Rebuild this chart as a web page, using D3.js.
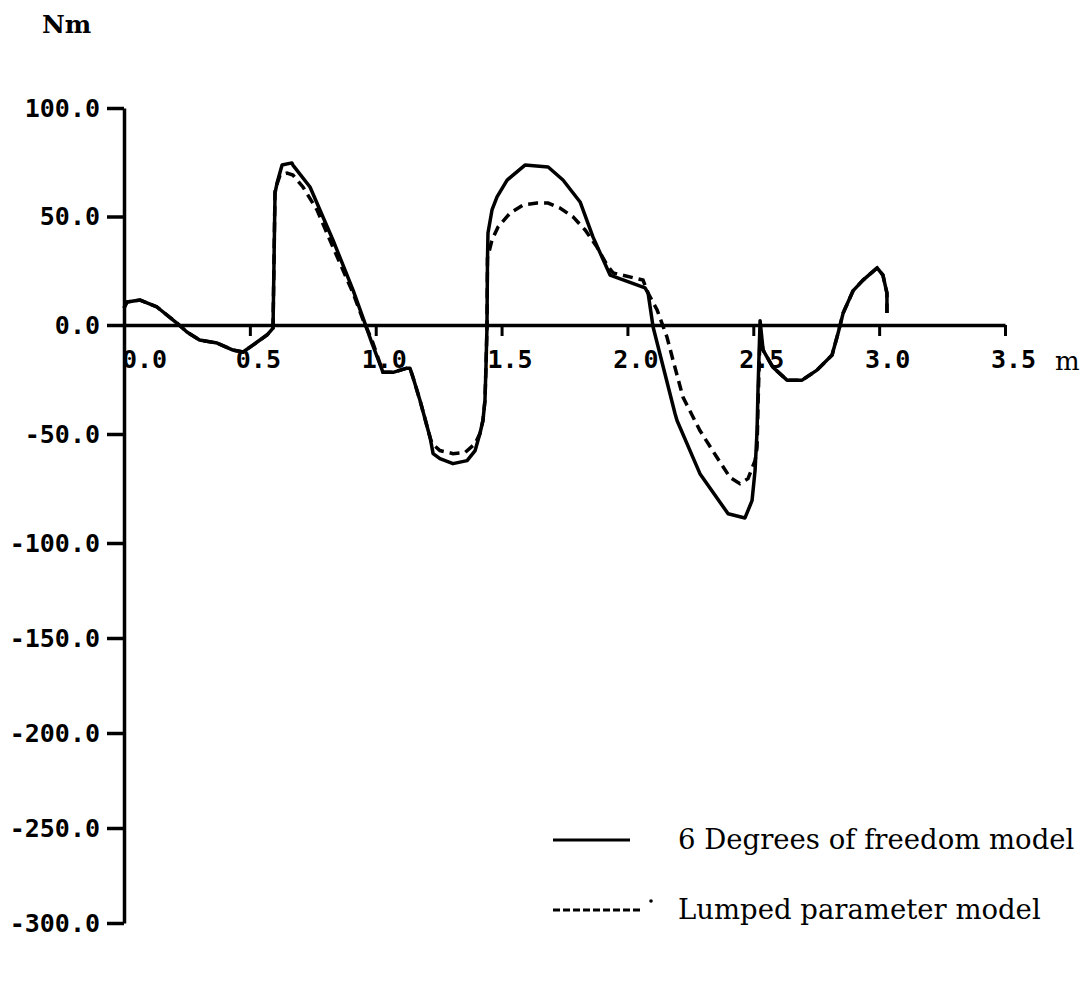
<!DOCTYPE html>
<html><head><meta charset="utf-8">
<script src="https://cdn.jsdelivr.net/npm/d3@7"></script>
<style>body{margin:0;background:#fff}svg{display:block}</style>
</head><body>
<svg id="c" width="1088" height="1001"></svg>
<script>
// ---- data ----
const xTicks = [0, 0.5, 1.0, 1.5, 2.0, 2.5, 3.0, 3.5];
const yTicks = [100, 50, 0, -50, -100, -150, -200, -250, -300];
const seriesNames = ["6 Degrees of freedom model", "Lumped parameter model"];
const unitY = "Nm", unitX = "m";

const sixDofX = [0.0,0.012,0.064,0.131,0.21,0.25,0.30,0.37,0.433,0.473,0.512,0.568,0.592,
  0.60,0.608,0.628,0.667,0.671,0.739,0.83,0.91,0.957,0.985,1.029,1.069,1.124,1.136,
  1.148,1.176,1.216,1.228,1.255,1.307,1.363,1.395,1.414,1.426,1.434,1.438,1.442,
  1.444,1.446,1.462,1.482,1.522,1.593,1.685,1.744,1.812,1.863,1.931,2.07,2.082,2.102,
  2.189,2.197,2.288,2.40,2.467,2.495,2.507,2.515,2.519,2.527,2.539,2.578,2.634,2.694,
  2.753,2.813,2.837,2.857,2.896,2.936,2.992,3.015,3.031,3.031];
const sixDofY = [7.8,10.6,11.5,8.3,0.9,-3.2,-6.9,-8.3,-11.5,-12.4,-9.2,-4.6,-1.4,
  60.8,65.4,73.7,74.7,73.7,63.6,39.2,16.1,0.9,-8.3,-21.7,-21.7,-19.8,-19.8,
  -24.0,-34.6,-51.6,-59.0,-61.3,-63.6,-62.2,-57.6,-49.8,-43.8,-34.6,-19.4,-0.9,
  30.0,42.4,53.0,59.0,66.8,73.7,72.8,66.8,56.7,40.6,23.0,17.1,14.7,-0.9,
  -40.6,-43.8,-68.2,-86.6,-88.5,-80.6,-66.8,-48.4,-28.6,2.0,-11.5,-19.4,-25.3,-25.3,
  -20.7,-13.8,-3.7,5.5,15.7,20.7,26.3,23.0,14.7,5.5];

const lumpedX = [0.0,0.012,0.064,0.131,0.21,0.25,0.30,0.37,0.433,0.473,0.512,0.568,0.592,
  0.60,0.62,0.648,0.671,0.711,0.767,0.83,0.91,0.95,0.985,1.029,1.069,1.124,1.136,
  1.148,1.176,1.216,1.224,1.255,1.307,1.355,1.395,1.414,1.426,1.434,1.438,1.442,
  1.444,1.462,1.486,1.534,1.585,1.641,1.685,1.732,1.784,1.832,1.879,1.919,1.943,2.062,2.082,
  2.118,2.157,2.181,2.221,2.288,2.356,2.408,2.447,2.479,2.507,2.515,2.519,2.527,
  2.539,2.578,2.634,2.694,2.753,2.813,2.837,2.857,2.896,2.936,2.992,3.015,3.031,3.031];
const lumpedY = [7.8,10.6,11.5,8.3,0.9,-3.2,-6.9,-8.3,-11.5,-12.4,-9.2,-4.6,-1.4,
  62.2,69.1,70.0,69.1,63.6,53.0,35.9,14.7,2.3,-6.9,-21.7,-21.7,-19.8,-19.8,
  -24.0,-34.6,-51.6,-54.4,-57.6,-59.0,-58.5,-54.4,-49.8,-43.8,-34.6,-19.4,-0.9,
  30.9,39.2,45.2,51.6,55.3,56.2,56.2,53.9,49.8,43.8,35.9,27.6,24.0,20.7,14.7,
  6.9,-5.5,-16.1,-33.2,-48.4,-60.8,-70.0,-72.8,-70.5,-62.2,-56.2,-35.9,-3.7,
  -11.5,-19.4,-25.3,-25.3,-20.7,-13.8,-3.7,5.5,15.7,20.7,26.3,23.0,14.7,5.5];

// ---- layout ----
const svg = d3.select("#c");
const x = d3.scaleLinear().domain([0, 3.5]).range([124, 1005]);
const y = d3.scaleLinear().domain([-300, -100, 0, 100]).range([923, 543, 325, 108]);
const ink = "#000";
const monoFont = "'DejaVu Sans Mono', monospace";
const serifFont = "'DejaVu Serif', serif";

// y axis
const yAxis = svg.append("g").attr("transform", `translate(${x(0)},0)`)
  .call(d3.axisLeft(y).tickValues(yTicks).tickSize(17).tickSizeOuter(0).tickPadding(7)
    .tickFormat(d => d.toFixed(1)));
yAxis.select(".domain").attr("stroke", ink).attr("stroke-width", 3.5);
yAxis.selectAll(".tick line").attr("stroke", ink).attr("stroke-width", 3.5);
yAxis.selectAll(".tick text").attr("fill", ink)
  .style("font-family", monoFont).style("font-size", "25px").style("font-weight", "bold");

// x axis
const xAxis = svg.append("g").attr("transform", `translate(0,${y(0)})`)
  .call(d3.axisBottom(x).tickValues(xTicks).tickSize(11).tickSizeOuter(0).tickPadding(14)
    .tickFormat(d => d.toFixed(1)));
xAxis.select(".domain").attr("stroke", ink).attr("stroke-width", 3.5);
xAxis.selectAll(".tick line").attr("stroke", ink).attr("stroke-width", 3);
xAxis.selectAll(".tick text").attr("fill", ink)
  .attr("x", d => d === 0 ? 20 : 8)
  .style("font-family", monoFont).style("font-size", "25px").style("font-weight", "bold");

// units
svg.append("text").attr("x", 42).attr("y", 33).text(unitY)
  .style("font-family", serifFont).style("font-size", "25px").style("font-weight", "bold").attr("fill", ink);
svg.append("text").attr("x", x(3.5) + 50).attr("y", y(0) + 45).text(unitX)
  .style("font-family", serifFont).style("font-size", "26px").attr("fill", ink);

// curves
const line = d3.line().x(d => x(d[0])).y(d => y(d[1]));
const sixDof = sixDofX.map((v, i) => [v, sixDofY[i]]);
const lumped = lumpedX.map((v, i) => [v, lumpedY[i]]);
svg.append("path").datum(lumped).attr("d", line).attr("fill", "none")
  .attr("stroke", ink).attr("stroke-width", 3.5).attr("stroke-dasharray", "10,6");
svg.append("path").datum(sixDof).attr("d", line).attr("fill", "none")
  .attr("stroke", ink).attr("stroke-width", 3.5).attr("stroke-linejoin", "round");

// legend
const lg = svg.append("g");
const legendRows = [
  {name: seriesNames[0], dash: null, y: 840},
  {name: seriesNames[1], dash: "7,3", y: 910}
];
legendRows.forEach(r => {
  lg.append("line").attr("x1", 553).attr("x2", r.dash ? 640 : 630)
    .attr("y1", r.y).attr("y2", r.y).attr("stroke", ink).attr("stroke-width", 3)
    .attr("stroke-dasharray", r.dash);
  lg.append("text").attr("x", 678).attr("y", r.y + 9).text(r.name)
    .style("font-family", serifFont).style("font-size", "27.5px").attr("fill", ink);
});
lg.append("circle").attr("cx", 651).attr("cy", 901).attr("r", 1.8).attr("fill", ink);
</script>
</body></html>
